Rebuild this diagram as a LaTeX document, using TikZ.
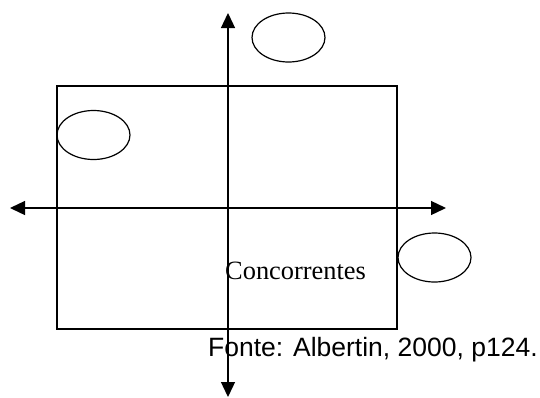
\documentclass[tikz,border=0pt]{standalone}
\usepackage{fontspec}
\setmainfont{Liberation Serif}
\setsansfont{Liberation Sans}
\usetikzlibrary{arrows.meta,shapes.geometric,positioning}

\begin{document}
\begin{tikzpicture}[
  x=1pt, y=-1pt,
  field/.style={rectangle, draw, line width=1.4pt, inner sep=0pt,
    minimum width=340pt, minimum height=243pt},
  actor/.style={ellipse, draw, line width=1.2pt, inner sep=0pt,
    minimum width=73pt, minimum height=49pt},
  axis/.style={{Triangle[length=15pt,width=14pt]}-{Triangle[length=15pt,width=14pt]}, line width=1.3pt},
  caption/.style={inner sep=0pt, anchor=base west}
]
\useasboundingbox (0,0) rectangle (540,397);

% Market area
\node[field] (market) at (227,207.5) {};

% Players
\node[actor] (top)   at (288.5,37.5) {};
\node[actor] (left)  at (93.5,135)   {};
\node[actor] (right) at (434.5,257.5) {};

% Axes
\coordinate (west)  at (10,208);
\coordinate (east)  at (446,208);
\coordinate (north) at (228,13);
\coordinate (south) at (228,397);
\draw[axis] (west) -- (east);
\draw[axis] (north) -- (south);

% Labels
\node[caption, font=\fontsize{26.4}{30}\selectfont] (comp) at (225,279) {Concorrentes};
\node[caption, font=\sffamily\fontsize{26.5}{30}\selectfont] (src) at (208,356) {Fonte: Albertin, 2000, p124.};

\end{tikzpicture}
\end{document}
